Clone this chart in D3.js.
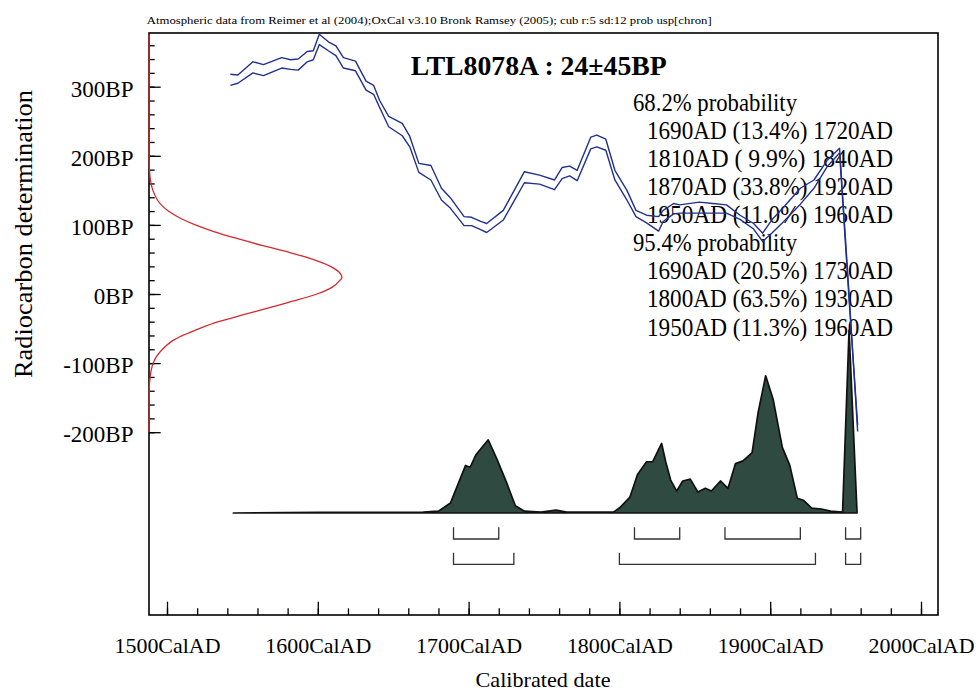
<!DOCTYPE html>
<html>
<head>
<meta charset="utf-8">
<script src="https://cdnjs.cloudflare.com/ajax/libs/d3/7.8.5/d3.min.js"></script>
<style>
  html, body { margin: 0; padding: 0; background: #fff; }
  svg { display: block; font-family: "Liberation Serif", "Times New Roman", serif; }
</style>
</head>
<body>
<svg id="chart" width="979" height="692"></svg>
<script>

// DATA
// --------------------------------------------------------------------------

// Calibration curve (1 sigma envelope), BP against calendar year.
var calYears = [1542, 1547, 1557, 1564, 1576, 1582, 1587, 1593, 1597, 1601,
  1607, 1612, 1617, 1625, 1632, 1637, 1641, 1647, 1656, 1661,
  1667, 1675, 1682, 1688, 1697, 1702, 1708, 1712, 1723, 1737,
  1747, 1757, 1762, 1767, 1772, 1781, 1785, 1791, 1797, 1805,
  1811, 1818, 1826, 1829, 1836, 1840, 1853, 1862, 1871, 1880,
  1889, 1895, 1901, 1909, 1920, 1929, 1938, 1946, 1952, 1958];

var calUpper = [318, 317, 336, 332, 342, 339, 340, 351, 352, 376,
  365, 359, 342, 337, 308, 302, 280, 257, 247, 228,
  189, 186, 153, 139, 112, 111, 105, 102, 121, 177,
  172, 165, 183, 185, 179, 227, 230, 224, 179, 150,
  121, 114, 112, 121, 131, 129, 133, 131, 129, 114,
  102, 88, 107, 126, 153, 165, 194, 211, 10, -199];

var calLower = [302, 305, 320, 316, 327, 325, 324, 336, 339, 361,
  352, 345, 327, 323, 295, 289, 270, 242, 229, 213,
  176, 165, 136, 124, 99, 99, 93, 89, 107, 161,
  159, 151, 167, 171, 164, 210, 213, 208, 165, 136,
  112, 103, 91, 105, 116, 117, 117, 117, 117, 108,
  94, 76, 88, 105, 130, 153, 185, 204, 2, -190];

// Radiocarbon determination (relative density against BP).
var detBP = [376, 200, 170, 150, 130, 120, 110, 100, 90, 80, 70, 60, 50, 40,
  30, 24, 20, 10, 0, -10, -20, -30, -40, -50, -60, -70, -80, -90, -100,
  -120, -140, -200];
var detDensity = [0, 0, 0.005, 0.02, 0.06, 0.10, 0.16, 0.24, 0.34, 0.46,
  0.59, 0.73, 0.85, 0.94, 0.99, 1, 0.99, 0.95, 0.87, 0.75, 0.62, 0.49,
  0.36, 0.26, 0.175, 0.11, 0.07, 0.04, 0.022, 0.006, 0.001, 0];

// Calibrated probability distribution (relative).
var probYears = [1544, 1600, 1640, 1670, 1680, 1688, 1698, 1701, 1705, 1713,
  1719, 1725, 1731, 1737, 1748, 1758, 1765, 1774, 1796, 1800,
  1807, 1812, 1818, 1822, 1828, 1831, 1834, 1838, 1842, 1847,
  1852, 1857, 1861, 1867, 1872, 1877, 1882, 1888, 1892, 1897,
  1902, 1908, 1913, 1918, 1922, 1927.5, 1934, 1940, 1948, 1952.3,
  1957.6];
var probValues = [0, 0.003, 0.003, 0.005, 0.01, 0.055, 0.26, 0.25, 0.32, 0.40,
  0.29, 0.17, 0.04, 0.01, 0.005, 0.016, 0.005, 0.005, 0.005, 0.027,
  0.087, 0.21, 0.28, 0.28, 0.38, 0.27, 0.18, 0.12, 0.175, 0.185,
  0.115, 0.135, 0.12, 0.175, 0.135, 0.27, 0.285, 0.33, 0.55, 0.75,
  0.62, 0.36, 0.26, 0.08, 0.07, 0.027, 0.022, 0.01, 0.005, 1.0,
  0];

// Probability ranges.
var ranges68 = [[1690, 1720], [1810, 1840], [1870, 1920], [1950, 1960]];
var pct68 = ['13.4%', ' 9.9%', '33.8%', '11.0%'];
var ranges95 = [[1690, 1730], [1800, 1930], [1950, 1960]];
var pct95 = ['20.5%', '63.5%', '11.3%'];

// Tick labels.
var xMajorTicks = [1500, 1600, 1700, 1800, 1900, 2000];
var yMajorTicks = [-200, -100, 0, 100, 200, 300];

var caption = 'Atmospheric data from Reimer et al (2004);OxCal v3.10 ' +
  'Bronk Ramsey (2005); cub r:5 sd:12 prob usp[chron]';
var title = 'LTL8078A : 24\u00b145BP';


// SCALES
// --------------------------------------------------------------------------

var svg = d3.select('#chart');

var frame = { left: 149, right: 938, top: 33, bottom: 615 };

var x = d3.scaleLinear().domain([1500, 2000]).range([167, 921]);
var y = d3.scaleLinear().domain([0, 300]).range([294, 86.7]);
var py = d3.scaleLinear().domain([0, 1]).range([513, 330]);
var dx = d3.scaleLinear().domain([0, 1]).range([frame.left, 342]);


// TEXT
// --------------------------------------------------------------------------

svg.append('text')
  .attr('x', 146.7).attr('y', 24)
  .attr('font-size', 11)
  .attr('textLength', 565).attr('lengthAdjust', 'spacingAndGlyphs')
  .text(caption);

svg.append('text')
  .attr('x', 410.7).attr('y', 75)
  .attr('font-size', 28).attr('font-weight', 'bold')
  .attr('textLength', 256).attr('lengthAdjust', 'spacingAndGlyphs')
  .text(title);

// Build the probability listing.
var rows = [{ text: '68.2% probability', head: true }];
ranges68.forEach(function(r, i) {
  rows.push({ text: r[0] + 'AD (' + pct68[i] + ') ' + r[1] + 'AD' });
});
rows.push({ text: '95.4% probability', head: true });
ranges95.forEach(function(r, i) {
  rows.push({ text: r[0] + 'AD (' + pct95[i] + ') ' + r[1] + 'AD' });
});

svg.append('g')
  .attr('font-size', 26)
  .selectAll('text')
  .data(rows)
  .join('text')
  .attr('x', function(d) { return d.head ? 633 : 647; })
  .attr('y', function(d, i) { return 110.7 + i * 28.1; })
  .attr('textLength', function(d) { return d.head ? 164 : 246; })
  .attr('lengthAdjust', 'spacingAndGlyphs')
  .style('white-space', 'pre')
  .text(function(d) { return d.text; });


// DISTRIBUTION
// --------------------------------------------------------------------------

var area = d3.area()
  .x(function(d, i) { return x(probYears[i]); })
  .y0(py(0))
  .y1(function(d) { return py(d); });

svg.append('path')
  .datum(probValues)
  .attr('d', area)
  .attr('fill', '#2f4a40')
  .attr('stroke', '#111')
  .attr('stroke-width', 1.7)
  .attr('stroke-linejoin', 'round');

// Range brackets.
function brackets(ranges, top, bottom) {
  svg.append('g')
    .selectAll('path')
    .data(ranges)
    .join('path')
    .attr('d', function(r) {
      return 'M' + x(r[0]) + ',' + top + 'V' + bottom +
        'H' + x(r[1]) + 'V' + top;
    })
    .attr('fill', 'none')
    .attr('stroke', '#333')
    .attr('stroke-width', 1.3);
}

brackets(ranges68, 527.3, 539);
brackets(ranges95, 552.7, 564.3);


// AXES
// --------------------------------------------------------------------------

svg.append('rect')
  .attr('x', frame.left).attr('y', frame.top)
  .attr('width', frame.right - frame.left)
  .attr('height', frame.bottom - frame.top)
  .attr('fill', 'none')
  .attr('stroke', '#000')
  .attr('stroke-width', 1.6);

function styleAxis(g) {
  g.select('.domain').remove();
  g.selectAll('.tick line').attr('stroke', '#000').attr('stroke-width', 1.3);
}

svg.append('g')
  .attr('transform', 'translate(0,' + frame.bottom + ')')
  .call(d3.axisBottom(x).tickValues(d3.range(1500, 2001, 20))
    .tickSize(-6.7).tickFormat(''))
  .call(styleAxis);

var xAxis = svg.append('g')
  .attr('transform', 'translate(0,' + frame.bottom + ')')
  .call(d3.axisBottom(x).tickValues(xMajorTicks)
    .tickSize(-13.3)
    .tickFormat(function(d) { return d + 'CalAD'; }))
  .call(styleAxis);

xAxis.selectAll('.tick text')
  .attr('y', 37.7).attr('dy', 0)
  .attr('fill', '#000')
  .attr('font-size', 22)
  .attr('font-family', '"Liberation Serif", serif')
  .attr('textLength', 106).attr('lengthAdjust', 'spacingAndGlyphs');

svg.append('g')
  .attr('transform', 'translate(' + frame.left + ',0)')
  .call(d3.axisLeft(y).tickValues(d3.range(-200, 361, 20))
    .tickSize(-5.7).tickFormat(''))
  .call(styleAxis);

var yAxis = svg.append('g')
  .attr('transform', 'translate(' + frame.left + ',0)')
  .call(d3.axisLeft(y).tickValues(yMajorTicks)
    .tickSize(-11.7)
    .tickFormat(function(d) { return d + 'BP'; }))
  .call(styleAxis);

yAxis.selectAll('.tick text')
  .attr('x', -15.5).attr('dy', '0.41em')
  .attr('fill', '#000')
  .attr('font-size', 23)
  .attr('font-family', '"Liberation Serif", serif');

svg.append('text')
  .attr('transform', 'translate(32,234) rotate(-90)')
  .attr('text-anchor', 'middle')
  .attr('font-size', 26)
  .attr('textLength', 288).attr('lengthAdjust', 'spacingAndGlyphs')
  .text('Radiocarbon determination');

svg.append('text')
  .attr('x', 543).attr('y', 687)
  .attr('text-anchor', 'middle')
  .attr('font-size', 22)
  .attr('textLength', 135).attr('lengthAdjust', 'spacingAndGlyphs')
  .text('Calibrated date');


// CURVES
// --------------------------------------------------------------------------

// Radiocarbon determination along the BP axis.
svg.append('path')
  .datum(detBP)
  .attr('d', d3.line()
    .x(function(d, i) { return dx(detDensity[i]); })
    .y(function(d) { return y(d); })
    .curve(d3.curveMonotoneY))
  .attr('fill', 'none')
  .attr('stroke', '#d22a2e')
  .attr('stroke-width', 1.3);

// Calibration curve envelope.
var calLine = d3.line()
  .x(function(d, i) { return x(calYears[i]); })
  .y(function(d) { return y(d); });

[calUpper, calLower].forEach(function(series) {
  svg.append('path')
    .datum(series)
    .attr('d', calLine)
    .attr('fill', 'none')
    .attr('stroke', '#22308f')
    .attr('stroke-width', 1.4)
    .attr('stroke-linejoin', 'round');
});

</script>
</body>
</html>
